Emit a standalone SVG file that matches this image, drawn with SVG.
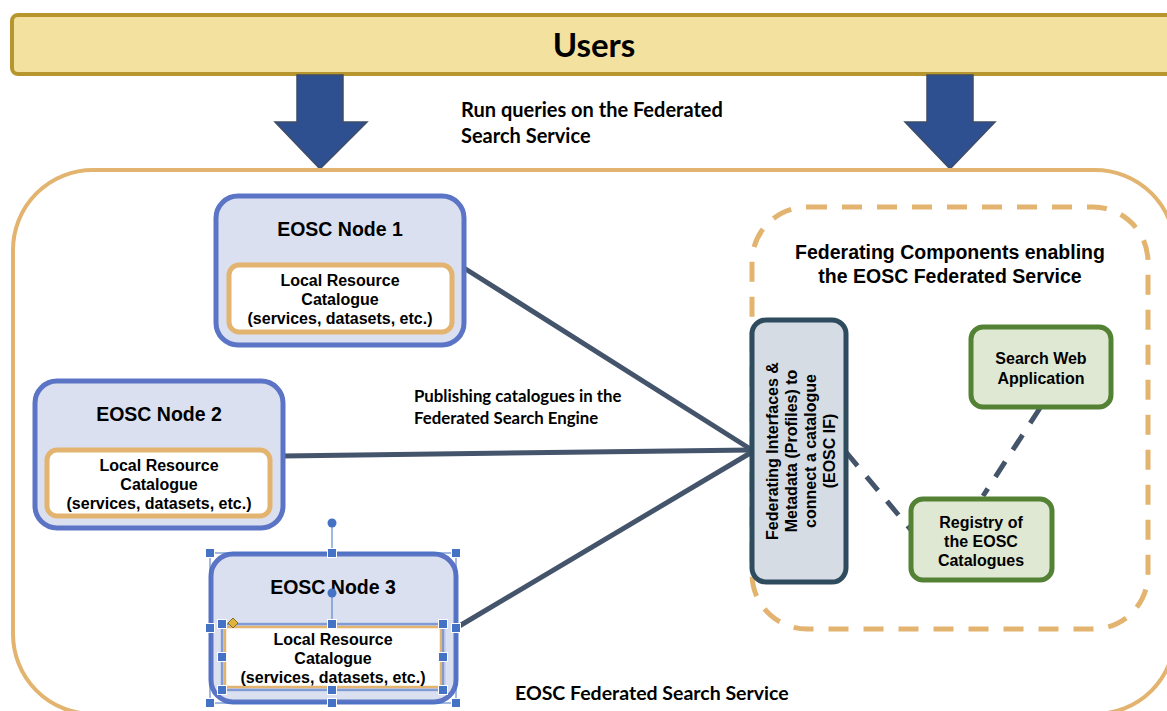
<svg xmlns="http://www.w3.org/2000/svg" width="1167" height="711" viewBox="0 0 1167 711">
<defs>
<style>
.cal{font-family:Lato,"Open Sans","Liberation Sans",sans-serif;font-weight:bold;fill:#000}
.ar{font-family:"Liberation Sans",Arial,sans-serif;font-weight:bold;fill:#000;text-anchor:middle}
.node{fill:#dae0f0;stroke:#5b74c5;stroke-width:5}
.cat{fill:#fff;stroke:#e3b470;stroke-width:5}
.green{fill:#dfe8d3;stroke:#548235;stroke-width:5}
.conn{stroke:#44546a;stroke-width:5;fill:none;stroke-linecap:round}
.dconn{stroke:#44546a;stroke-width:5;fill:none;stroke-dasharray:18 14}
.arrow{fill:#2f5090;stroke:#3e4c66;stroke-width:1.5}
.h{fill:#4472c4;stroke:#fff;stroke-width:1}
.sel{fill:none;stroke:#4472c4;stroke-width:1}
</style>
</defs>
<rect width="1167" height="711" fill="#fff"/>

<g id="users">
<rect x="12" y="15" width="1170" height="59" rx="6" fill="#f3e1a0" stroke="#b8962e" stroke-width="4"/>
<text x="594" y="57" class="cal" font-size="33" text-anchor="middle">Users</text>
</g>

<g id="arrows">
<polygon class="arrow" points="297,75 343,75 343,122 367,122 320,169 275,122 297,122"/>
<polygon class="arrow" points="927,75 973,75 973,122 995,122 950,169 905,122 927,122"/>
<text class="cal" font-size="20"><tspan x="461" y="117">Run queries on the Federated</tspan><tspan x="461" y="143">Search Service</tspan></text>
</g>

<g id="federated-search-service">
<rect x="13" y="170" width="1162" height="544" rx="80" fill="none" stroke="#e3b470" stroke-width="4"/>
<text x="515" y="700" class="cal" font-size="19.5">EOSC Federated Search Service</text>
</g>

<g id="federating-components">
<rect x="752" y="207" width="396" height="422" rx="55" fill="none" stroke="#e3b470" stroke-width="5" stroke-dasharray="20 15"/>
<text class="ar" font-size="19.5"><tspan x="950" y="259">Federating Components enabling</tspan><tspan x="950" y="283">the EOSC Federated Service</tspan></text>
</g>

<g id="connectors">
<line class="conn" x1="464" y1="268" x2="752" y2="450"/>
<line class="conn" x1="283" y1="456" x2="752" y2="450"/>
<line class="conn" x1="456" y1="628" x2="752" y2="452"/>
<line class="dconn" x1="846" y1="452" x2="911" y2="530"/>
<line class="dconn" x1="1040" y1="408" x2="983" y2="496"/>
<text class="cal" font-size="16.8"><tspan x="414" y="402">Publishing catalogues in the</tspan><tspan x="414" y="424">Federated Search Engine</tspan></text>
</g>

<g id="node1">
<rect class="node" x="216" y="196" width="248" height="149" rx="22"/>
<text class="ar" x="340" y="236" font-size="19.5">EOSC Node 1</text>
<rect class="cat" x="229" y="265" width="223" height="67" rx="10"/>
<text class="ar" font-size="16"><tspan x="340" y="286">Local Resource</tspan><tspan x="340" y="305">Catalogue</tspan><tspan x="340" y="324">(services, datasets, etc.)</tspan></text>
</g>

<g id="node2">
<rect class="node" x="35" y="381" width="248" height="147" rx="22"/>
<text class="ar" x="159" y="421" font-size="19.5">EOSC Node 2</text>
<rect class="cat" x="47" y="450" width="223" height="66" rx="10"/>
<text class="ar" font-size="16"><tspan x="159" y="471">Local Resource</tspan><tspan x="159" y="490">Catalogue</tspan><tspan x="159" y="509">(services, datasets, etc.)</tspan></text>
</g>

<g id="node3">
<rect class="node" x="211" y="554" width="245" height="148" rx="22"/>
<text class="ar" x="333" y="594" font-size="19.5">EOSC Node 3</text>
<rect x="223" y="625" width="220" height="64" rx="4" fill="#fff" stroke="#b9c5e8" stroke-width="5"/>
<rect x="225" y="627" width="216" height="60" rx="3" fill="#fff" stroke="#e3b470" stroke-width="2.5"/>
<text class="ar" font-size="16"><tspan x="333" y="645">Local Resource</tspan><tspan x="333" y="664">Catalogue</tspan><tspan x="333" y="683">(services, datasets, etc.)</tspan></text>
</g>

<g id="selection-handles">
<rect class="sel" x="210" y="553" width="246" height="150"/>
<rect class="sel" x="222" y="624" width="221" height="66"/>
<line class="sel" x1="332" y1="523" x2="332" y2="553"/>
<circle cx="332" cy="523" r="4.5" fill="#4472c4"/>
<line class="sel" x1="332" y1="593" x2="332" y2="624"/>
<circle cx="332" cy="593" r="4.5" fill="#4472c4"/>
<rect class="h" x="205.5" y="548.5" width="9" height="9"/>
<rect class="h" x="327.5" y="548.5" width="9" height="9"/>
<rect class="h" x="451.5" y="548.5" width="9" height="9"/>
<rect class="h" x="205.5" y="623.5" width="9" height="9"/>
<rect class="h" x="451.5" y="623.5" width="9" height="9"/>
<rect class="h" x="205.5" y="698.5" width="9" height="9"/>
<rect class="h" x="327.5" y="698.5" width="9" height="9"/>
<rect class="h" x="451.5" y="698.5" width="9" height="9"/>
<rect class="h" x="217.5" y="619.5" width="9" height="9"/>
<rect class="h" x="327.5" y="619.5" width="9" height="9"/>
<rect class="h" x="438.5" y="619.5" width="9" height="9"/>
<rect class="h" x="217.5" y="652.5" width="9" height="9"/>
<rect class="h" x="438.5" y="652.5" width="9" height="9"/>
<rect class="h" x="217.5" y="685.5" width="9" height="9"/>
<rect class="h" x="327.5" y="685.5" width="9" height="9"/>
<rect class="h" x="438.5" y="685.5" width="9" height="9"/>
<polygon points="233,618 238,623 233,628 228,623" fill="#e0b33a" stroke="#8a6d1e" stroke-width="1"/>
</g>

<g id="eosc-if">
<rect x="752" y="320" width="94" height="262" rx="14" fill="#d5dce4" stroke="#2f4b5e" stroke-width="5"/>
<text class="ar" font-size="16" transform="translate(799,451) rotate(-90)"><tspan x="0" y="-21">Federating Interfaces &amp;</tspan><tspan x="0" y="-2">Metadata (Profiles) to</tspan><tspan x="0" y="17">connect a catalogue</tspan><tspan x="0" y="36">(EOSC IF)</tspan></text>
</g>

<g id="search-web-app">
<rect class="green" x="971" y="327" width="140" height="80" rx="12"/>
<text class="ar" font-size="16"><tspan x="1041" y="364">Search Web</tspan><tspan x="1041" y="384">Application</tspan></text>
</g>

<g id="registry">
<rect class="green" x="911" y="499" width="141" height="81" rx="12"/>
<text class="ar" font-size="16"><tspan x="981" y="528">Registry of</tspan><tspan x="981" y="547">the EOSC</tspan><tspan x="981" y="566">Catalogues</tspan></text>
</g>
</svg>
